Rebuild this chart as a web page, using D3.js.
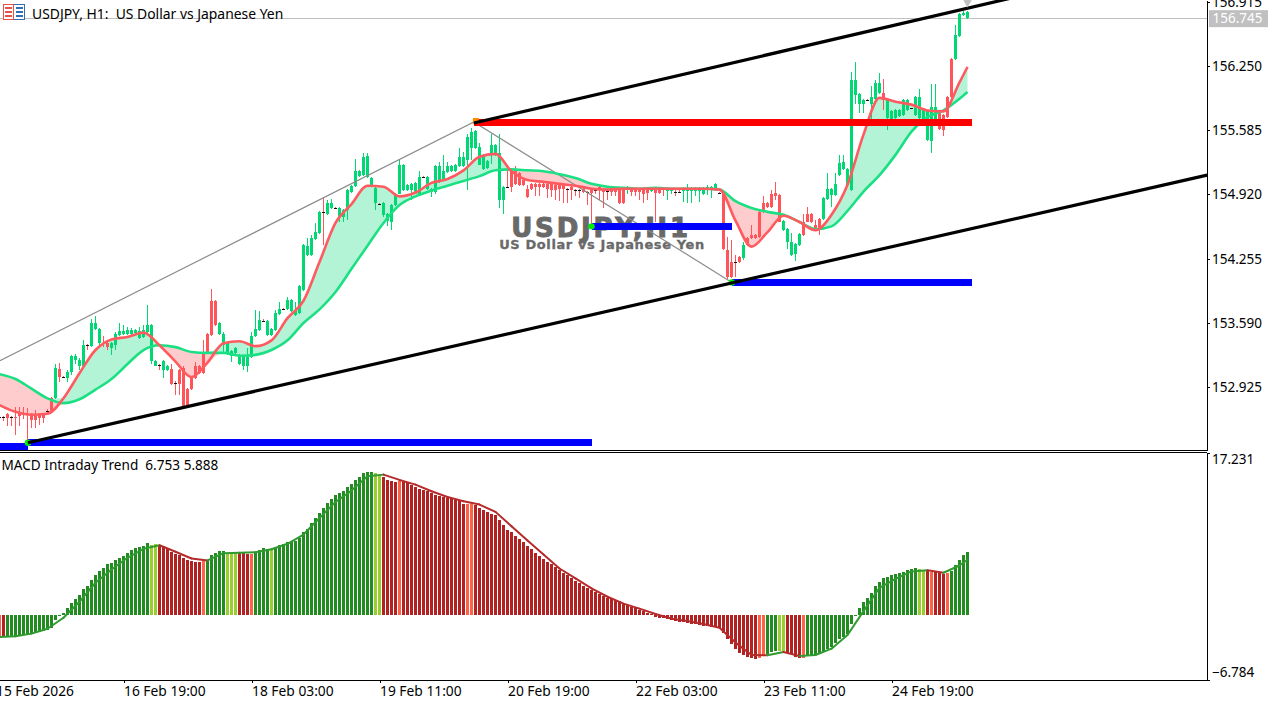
<!DOCTYPE html>
<html><head><meta charset="utf-8">
<script src="https://cdn.jsdelivr.net/npm/d3@7/dist/d3.min.js"></script>
<style>html,body{margin:0;padding:0;background:#fff;overflow:hidden}svg{display:block}text{white-space:pre}</style>
</head><body><svg id="c" width="1282" height="702"></svg>
<script>
// ---- candles (bar 0 is the oldest visible hour) ----
const opens=[
152.62,152.62,152.65,152.62,152.62,152.66,152.65,152.65,152.64,152.65,
152.65,152.65,152.68,152.81,152.81,153.11,153.03,153.02,153.08,153.21,
153.14,153.14,153.36,153.35,153.53,153.38,153.38,153.38,153.33,153.36,
153.47,153.48,153.48,153.48,153.49,153.43,153.44,153.50,153.20,153.14,
153.16,153.10,153.10,153.11,152.97,153.10,153.12,152.91,153.02,153.14,
153.14,153.29,153.48,153.82,153.82,153.48,153.36,153.28,153.25,153.28,
153.17,153.14,153.14,153.24,153.45,153.52,153.61,153.47,153.47,153.52,
153.68,153.73,153.73,153.71,153.67,153.69,153.93,154.29,154.29,154.46,
154.52,154.74,154.72,154.78,154.78,154.69,154.69,154.76,154.95,155.01,
155.11,155.12,155.10,155.02,154.83,154.82,154.71,154.65,154.64,154.81,
154.93,154.97,154.97,154.97,154.93,154.93,155.10,154.98,154.95,154.95,
155.05,155.07,155.15,155.16,155.16,155.21,155.21,155.28,155.40,155.40,
155.23,155.18,155.19,155.33,155.33,154.86,154.86,155.00,155.16,155.16,
155.14,155.07,154.98,155.03,155.03,155.03,155.03,155.03,155.03,155.02,
155.02,155.02,154.98,155.00,154.97,154.97,154.98,154.95,154.98,154.97,
155.00,154.98,154.96,154.98,154.98,154.97,154.97,154.97,154.98,154.98,
154.98,154.98,154.98,154.96,154.98,154.98,154.98,154.96,154.96,154.95,
154.95,154.96,154.96,154.96,154.96,154.96,154.92,154.97,154.98,154.98,
154.94,154.94,154.35,154.22,154.22,154.27,154.26,154.47,154.50,154.50,
154.74,154.83,154.83,154.93,154.94,154.91,154.55,154.43,154.29,154.30,
154.40,154.63,154.72,154.72,154.60,154.67,154.67,154.87,154.91,154.91,
155.12,155.18,155.02,154.97,155.95,155.86,155.86,155.90,155.86,155.91,
155.97,155.97,155.71,155.67,155.71,155.73,155.74,155.79,155.81,155.74,
155.71,155.69,155.48,155.47,155.69,155.76,155.74,155.93,156.32,156.32,
156.56,156.78,156.75];
const closes=[
152.62,152.62,152.61,152.62,152.61,152.63,152.64,152.65,152.59,152.59,
152.61,152.61,152.68,152.67,153.12,153.03,153.03,153.08,153.25,153.25,
153.21,153.36,153.36,153.59,153.59,153.53,153.38,153.34,153.38,153.48,
153.51,153.51,153.52,153.52,153.52,153.51,153.52,153.57,153.57,153.20,
153.16,153.20,153.14,152.96,152.97,152.96,152.73,152.73,152.91,153.02,
153.07,153.07,153.28,153.47,153.57,153.59,153.48,153.38,153.30,153.33,
153.26,153.24,153.24,153.45,153.53,153.62,153.61,153.61,153.53,153.69,
153.73,153.73,153.83,153.83,153.72,153.97,154.40,154.39,154.47,154.53,
154.74,154.74,154.83,154.83,154.78,154.78,154.76,154.97,155.01,155.16,
155.16,155.31,155.32,155.09,154.99,154.82,154.83,154.72,154.81,154.93,
155.23,155.23,155.02,155.03,155.04,155.10,155.10,155.10,154.98,155.21,
155.21,155.16,155.21,155.21,155.22,155.31,155.31,155.51,155.57,155.58,
155.41,155.33,155.27,155.43,155.43,155.35,155.00,155.00,155.00,155.03,
155.02,155.02,154.89,154.98,155.00,155.00,155.00,154.98,154.97,154.97,
154.98,154.98,154.98,154.97,154.97,154.97,154.95,154.95,154.94,154.97,
154.97,154.95,154.96,154.95,154.95,154.83,154.83,155.00,154.95,154.95,
154.95,154.93,154.94,154.98,154.94,154.94,154.97,154.98,154.98,154.95,
154.95,154.98,154.98,154.98,154.98,154.98,154.98,155.00,155.00,155.03,
154.94,154.36,154.07,154.07,154.22,154.22,154.40,154.40,154.47,154.47,
154.48,154.74,154.79,154.79,154.90,154.64,154.65,154.56,154.43,154.41,
154.51,154.50,154.64,154.63,154.56,154.55,154.88,154.98,154.98,155.03,
155.25,155.26,155.18,156.11,156.11,155.96,155.90,155.90,155.93,156.07,
156.07,155.90,155.90,155.78,155.79,155.79,155.90,155.90,155.81,155.93,
155.93,155.79,155.78,155.83,155.83,155.60,155.59,155.72,155.93,156.57,
156.79,156.80,156.81];
const highs=[
152.63,152.63,152.66,152.63,152.72,152.72,152.72,152.71,152.66,152.69,
152.66,152.66,152.70,152.82,153.17,153.18,153.04,153.10,153.26,153.27,
153.23,153.41,153.37,153.63,153.66,153.54,153.45,153.40,153.39,153.50,
153.59,153.57,153.55,153.54,153.53,153.55,153.57,153.78,153.58,153.21,
153.17,153.21,153.15,153.17,152.99,153.11,153.14,152.92,153.03,153.19,
153.15,153.41,153.49,153.94,153.83,153.60,153.50,153.39,153.31,153.34,
153.27,153.25,153.33,153.50,153.72,153.71,153.63,153.62,153.54,153.72,
153.81,153.74,153.86,153.84,153.81,153.98,154.41,154.47,154.50,154.62,
154.75,154.88,154.86,154.87,154.79,154.79,154.77,154.98,155.02,155.29,
155.17,155.35,155.35,155.10,155.00,154.83,154.84,154.73,154.82,154.94,
155.29,155.24,155.03,155.04,155.05,155.16,155.11,155.11,154.99,155.22,
155.26,155.33,155.26,155.22,155.24,155.40,155.36,155.55,155.61,155.59,
155.45,155.34,155.28,155.55,155.44,155.55,155.01,155.17,155.17,155.21,
155.15,155.08,155.02,155.04,155.04,155.04,155.04,155.04,155.04,155.03,
155.03,155.03,154.99,155.01,154.98,154.98,154.99,154.96,154.99,154.98,
155.01,154.99,154.97,154.99,154.99,154.98,154.98,155.01,154.99,154.99,
154.99,154.99,154.99,155.00,154.99,154.99,154.99,154.99,154.99,154.99,
154.99,155.00,155.03,155.00,155.00,155.00,155.00,155.02,155.01,155.04,
154.95,154.95,154.48,154.45,154.29,154.28,154.43,154.48,154.60,154.51,
154.75,154.90,154.84,154.97,155.05,154.92,154.66,154.57,154.52,154.42,
154.52,154.72,154.79,154.73,154.66,154.68,154.89,155.14,154.99,155.14,
155.33,155.33,155.19,156.19,156.29,155.97,155.91,155.91,156.04,156.10,
156.18,156.12,155.91,155.79,155.80,155.80,155.91,155.91,155.82,155.94,
156.01,155.80,155.79,156.06,156.06,155.77,155.75,155.94,156.33,156.67,
156.80,156.82,156.82];
const lows=[
152.60,152.58,152.52,152.52,152.43,152.52,152.60,152.34,152.50,152.50,
152.53,152.55,152.66,152.66,152.80,152.98,153.02,152.98,153.05,153.17,
153.10,153.13,153.31,153.34,153.52,153.36,153.34,153.31,153.26,153.31,
153.46,153.47,153.47,153.47,153.48,153.42,153.43,153.49,153.17,153.14,
153.10,153.02,153.09,152.95,152.84,152.84,152.72,152.72,152.90,153.01,
153.06,153.06,153.27,153.46,153.56,153.47,153.28,153.26,153.19,153.26,
153.16,153.10,153.08,153.23,153.44,153.51,153.60,153.45,153.46,153.51,
153.67,153.72,153.72,153.70,153.66,153.68,153.92,154.28,154.28,154.45,
154.51,154.40,154.71,154.77,154.77,154.64,154.64,154.66,154.94,155.00,
155.10,155.11,155.09,155.01,154.76,154.81,154.69,154.59,154.55,154.80,
154.92,154.96,154.96,154.86,154.92,154.92,155.09,154.97,154.89,154.93,
155.04,155.06,155.14,155.15,155.15,155.20,155.20,154.97,155.28,155.39,
155.22,155.17,155.18,155.24,155.32,154.78,154.72,154.99,154.95,155.02,
155.01,155.01,154.88,154.97,154.90,154.90,154.99,154.88,154.89,154.86,
154.85,154.83,154.83,154.86,154.90,154.88,154.94,154.81,154.60,154.93,
154.86,154.78,154.86,154.90,154.90,154.82,154.82,154.93,154.90,154.90,
154.86,154.83,154.86,154.95,154.64,154.93,154.90,154.86,154.93,154.90,
154.94,154.84,154.83,154.83,154.90,154.84,154.91,154.91,154.88,154.97,
154.93,154.35,154.05,154.06,154.07,154.21,154.24,154.39,154.46,154.46,
154.47,154.73,154.78,154.78,154.86,154.63,154.54,154.36,154.28,154.23,
154.39,154.49,154.63,154.62,154.55,154.50,154.66,154.86,154.79,154.90,
155.11,155.17,155.01,154.96,155.86,155.76,155.76,155.89,155.69,155.86,
155.96,155.79,155.59,155.66,155.70,155.72,155.73,155.78,155.80,155.73,
155.70,155.68,155.47,155.35,155.68,155.59,155.53,155.71,155.92,156.31,
156.55,156.77,156.74];

// ---- moving averages, read every fourth bar ----
const maBars=[0,4,8,12,16,20,24,28,32,36,40,44,48,52,56,60,64,68,72,76,80,84,88,92,96,100,104,108,112,116,120,124,128,132,136,140,144,148,152,156,160,164,168,172,176,180,184,188,192,196,200,204,208,212,216,220,224,228,232,236,240,242];
const maSlow=[153.06,153.01,152.91,152.81,152.76,152.80,152.90,153.01,153.165,153.31,153.36,153.34,153.29,153.28,153.28,153.25,153.26,153.31,153.41,153.59,153.73,153.91,154.15,154.39,154.625,154.81,154.90,154.96,155.01,155.06,155.11,155.17,155.18,155.17,155.16,155.13,155.09,155.03,155.00,154.99,154.98,154.99,154.98,154.98,154.98,154.97,154.85,154.78,154.74,154.71,154.635,154.56,154.59,154.75,154.95,155.12,155.33,155.57,155.72,155.79,155.91,155.98];
const maFast=[152.74,152.67,152.64,152.65,152.81,153.07,153.31,153.42,153.445,153.49,153.36,153.19,153.03,153.18,153.38,153.40,153.35,153.41,153.64,153.82,154.22,154.625,154.82,155.01,155.00,154.90,154.94,155.04,155.08,155.17,155.31,155.34,155.16,155.07,155.05,155.03,155.01,154.98,154.97,154.98,154.98,154.98,154.98,154.98,154.98,154.97,154.65,154.38,154.53,154.70,154.635,154.55,154.71,155.02,155.54,155.92,155.88,155.85,155.79,155.78,156.08,156.24];

// ---- MACD Intraday Trend ----
const macdHist=[
-2.29,-2.29,-2.22,-2.22,-2.18,-2.15,-2.11,-2.01,-1.90,-1.83,
-1.73,-1.65,-1.55,-1.37,-0.53,-0.05,0.28,0.74,1.34,1.69,
2.15,2.75,3.10,3.70,4.26,4.68,4.96,5.39,5.56,5.81,
6.09,6.30,6.58,6.94,7.08,7.22,7.36,7.68,7.43,7.50,
7.43,7.29,6.97,6.73,6.51,6.37,6.02,5.88,5.74,5.67,
5.63,5.74,5.81,6.44,6.62,6.76,6.80,6.62,6.62,6.58,
6.69,6.58,6.51,6.51,6.62,6.87,7.08,7.01,7.01,7.22,
7.43,7.57,7.71,7.92,7.92,8.20,8.84,9.19,9.79,10.32,
10.85,11.37,11.90,12.36,12.78,12.96,13.20,13.63,13.94,14.37,
14.68,15.11,15.21,15.21,15.11,14.89,14.68,14.37,14.19,14.08,
14.19,14.08,13.98,13.84,13.56,13.42,13.31,13.13,12.92,12.78,
12.61,12.54,12.46,12.39,12.18,12.08,11.73,11.73,11.80,11.65,
11.41,11.20,10.92,10.77,10.60,10.04,9.51,9.08,8.77,8.45,
8.03,7.71,7.29,6.97,6.55,6.23,5.92,5.60,5.39,5.07,
4.75,4.44,4.23,3.91,3.59,3.38,3.06,2.85,2.64,2.43,
2.22,2.01,1.80,1.69,1.58,1.48,1.16,1.06,0.88,0.74,
0.53,0.46,0.21,0.11,-0.18,-0.32,-0.32,-0.42,-0.53,-0.63,
-0.70,-0.70,-0.77,-0.92,-0.92,-0.99,-1.13,-1.13,-1.20,-1.20,
-1.37,-1.90,-2.54,-3.06,-3.59,-4.01,-4.23,-4.44,-4.51,-4.61,
-4.51,-4.30,-4.12,-3.87,-3.77,-3.77,-3.77,-3.94,-4.12,-4.37,
-4.47,-4.47,-4.30,-4.30,-4.12,-4.12,-3.87,-3.59,-3.35,-2.89,
-2.54,-2.25,-2.01,-0.95,-0.07,0.74,1.41,1.87,2.39,3.10,
3.52,3.98,4.05,4.23,4.33,4.44,4.61,4.75,4.86,4.96,
4.86,4.75,4.68,4.61,4.58,4.51,4.33,4.44,4.68,5.28,
5.81,6.44,6.753];
const histRunStates=["tomato","fall","rise","lime","fall","tomato","rise","lime","fall","tomato","rise","lime","rise","lime","fall","tomato","fall","tomato","fall","tomato","rise","lime","fall","tomato","rise","lime","fall","tomato","fall","tomato","rise"];
const histRunLengths=[1,1,36,2,11,1,5,3,3,1,4,1,25,2,4,1,16,2,71,2,3,2,4,1,28,2,1,1,3,1,5];
const macdSignal=[-2.29,-2.22,-1.93,-1.41,-0.25,1.44,3.45,4.86,6.09,7.04,7.42,6.73,6.02,5.81,6.58,6.62,6.68,7.00,7.57,8.55,10.3,12.0,13.2,14.71,14.89,14.33,13.83,13.13,12.53,12.07,11.72,10.95,9.43,7.92,6.44,4.96,3.91,2.85,1.97,1.24,0.71,0.14,-0.35,-0.6,-0.92,-1.3,-2.88,-4.19,-4.22,-3.87,-4.3,-4.19,-3.52,-2.08,0.45,2.92,3.87,4.65,4.78,4.51,5.28,5.888];

// ---- ticks and labels ----
const priceTicks=[156.915,156.250,155.585,154.920,154.255,153.590,152.925];
const macdTicks=[17.231,-6.784];
const timeTickBars=[-1,31,63,95,127,159,191,223];
const timeLabels=["15 Feb 2026","16 Feb 19:00","18 Feb 03:00","19 Feb 11:00","20 Feb 19:00","22 Feb 03:00","23 Feb 11:00","24 Feb 19:00"];
const lastPrice=156.745;

// ---- drawn objects: [bar, price] end points ----
const zigzag=[[0.1,153.20],[118.6,155.67],[183.1,154.01]];
const trendLines=[[[118.6,155.66],[252.6,156.95]],[[7.1,152.35],[301.9,155.12]]];
const levelStarts=[118.6,148,183.1,7.1,0];
const levelEnds=[243,183.1,243,148,7.1];
const levelPrices=[155.67,154.59,154.01,152.35,152.31];
const levelKinds=["#ff0000","#0000ff","#0000ff","#0000ff","#0000ff"];
const pivotBars=[148,183.1,7.1];
const pivotPrices=[154.59,154.01,152.35];

const FONT='"Noto Sans",sans-serif';
const svg=d3.select('#c');
const x=d3.scaleLinear().domain([0,302]).range([-0.5,1207.5]);
const yP=d3.scaleLinear().domain([152.275,156.933]).range([450,0]);
const yM=d3.scaleLinear().domain([-6.784,17.231]).range([679.5,452.5]);
const UP='#00d973',DOWN='#ff5459';

// watermark text
svg.append('text').attr('x',601).attr('y',236.5).attr('text-anchor','middle')
  .attr('font-family','"DejaVu Sans"').attr('font-weight',700).attr('font-size',26).attr('letter-spacing',2.8)
  .attr('fill','#696969').attr('stroke','#696969').attr('stroke-width',1).text('USDJPY,H1');
svg.append('text').attr('x',602).attr('y',248.5).attr('text-anchor','middle')
  .attr('font-family','"DejaVu Sans"').attr('font-weight',700).attr('font-size',13).attr('letter-spacing',0.6)
  .attr('fill','#696969').attr('stroke','#696969').attr('stroke-width',0.3).text('US Dollar vs Japanese Yen');

// current price line
svg.append('line').attr('x1',0).attr('x2',1207).attr('y1',Math.round(yP(lastPrice))+.5).attr('y2',Math.round(yP(lastPrice))+.5)
  .attr('stroke','#c0c0c0');

// fill between moving averages
const idx=d3.range(maBars.length);
const areaUp=d3.area().x(k=>x(maBars[k])).y0(k=>yP(maSlow[k])).y1(k=>yP(Math.max(maFast[k],maSlow[k]))).curve(d3.curveMonotoneX);
const areaDn=d3.area().x(k=>x(maBars[k])).y0(k=>yP(maSlow[k])).y1(k=>yP(Math.min(maFast[k],maSlow[k]))).curve(d3.curveMonotoneX);
svg.append('path').attr('d',areaUp(idx)).attr('fill','#b3f4d7');
svg.append('path').attr('d',areaDn(idx)).attr('fill','#ffcccd');

// candles
const bars=d3.range(opens.length);
const gC=svg.append('g').attr('shape-rendering','crispEdges');
const colour=i=>closes[i]>opens[i]?UP:closes[i]<opens[i]?DOWN:'#111';
gC.selectAll('.w').data(bars).join('rect').attr('class','w')
  .attr('x',i=>x(i)-0.5).attr('width',1)
  .attr('y',i=>yP(highs[i])).attr('height',i=>Math.max(1,yP(lows[i])-yP(highs[i])))
  .attr('fill',i=>opens[i]===closes[i]?'#ff5459':colour(i));
gC.selectAll('.b').data(bars).join('rect').attr('class','b')
  .attr('x',i=>x(i)-1.5).attr('width',3)
  .attr('y',i=>yP(Math.max(opens[i],closes[i]))).attr('height',i=>Math.max(1,Math.abs(yP(opens[i])-yP(closes[i]))))
  .attr('fill',colour);

// analysis lines
const pt=d3.line().x(d=>x(d[0])).y(d=>yP(d[1]));
svg.append('path').attr('d',pt(zigzag)).attr('fill','none').attr('stroke','#8c8c8c').attr('stroke-width',1.2);

// moving average lines
const lineOf=a=>d3.line().x(k=>x(maBars[k])).y(k=>yP(a[k])).curve(d3.curveMonotoneX)(idx);
svg.append('path').attr('d',lineOf(maSlow)).attr('fill','none').attr('stroke','#1be083').attr('stroke-width',2.6);
svg.append('path').attr('d',lineOf(maFast)).attr('fill','none').attr('stroke','#ff5a5f').attr('stroke-width',2.6);

// horizontal levels
svg.append('g').attr('shape-rendering','crispEdges').selectAll('rect').data(levelPrices).join('rect')
  .attr('x',(d,i)=>x(levelStarts[i])).attr('width',(d,i)=>x(levelEnds[i])-x(levelStarts[i]))
  .attr('y',d=>yP(d)-3.5).attr('height',7).attr('fill',(d,i)=>levelKinds[i]);
svg.append('rect').attr('x',x(118.6)-1).attr('y',yP(155.67)-4).attr('width',6).attr('height',6).attr('fill','#ff8c00');

// pivots
svg.selectAll('.p').data(pivotBars).join('circle').attr('class','p')
  .attr('cx',d=>x(d)).attr('cy',(d,i)=>yP(pivotPrices[i])).attr('r',3.2).attr('fill','#00ee00');

// trend lines
trendLines.forEach(t=>svg.append('path').attr('d',pt(t)).attr('fill','none').attr('stroke','#000').attr('stroke-width',3.2));

// last price marker
svg.append('path').attr('d',d3.symbol(d3.symbolDiamond,55)()).attr('transform',`translate(${x(242)},0.5)`).attr('fill','#c0c0c0');

// MACD histogram
const histState=histRunStates.flatMap((s,k)=>d3.range(histRunLengths[k]).map(()=>s));
const histColour={rise:'#228b22',lime:'#9acd32',fall:'#b22222',tomato:'#ff6347'};
svg.append('g').attr('shape-rendering','crispEdges').selectAll('rect').data(macdHist).join('rect')
  .attr('x',(d,i)=>x(i)-1.5).attr('width',3)
  .attr('y',d=>Math.min(yM(d),yM(0))).attr('height',d=>Math.max(1,Math.abs(yM(d)-yM(0))))
  .attr('fill',(d,i)=>histColour[histState[i]]);
// MACD signal
const segs=d3.pairs(d3.range(macdSignal.length));
svg.append('g').selectAll('path').data(segs).join('path')
  .attr('d',([a,b])=>d3.line().x(k=>x(maBars[k])).y(k=>yM(macdSignal[k]))([a,b]))
  .attr('fill','none').attr('stroke-width',2).attr('stroke-linecap','round')
  .attr('stroke',([a,b])=>macdSignal[b]>=macdSignal[a]?'#2f9a2f':'#b52a2a');

// frame
const frame=svg.append('g').attr('shape-rendering','crispEdges');
frame.append('line').attr('x1',0).attr('x2',1207).attr('y1',450.5).attr('y2',450.5).attr('stroke','#000');
frame.append('line').attr('x1',0).attr('x2',1207).attr('y1',452.5).attr('y2',452.5).attr('stroke','#000');

// axes
const styleAxis=size=>g=>{g.attr('font-family',FONT).attr('font-size',size);
  g.selectAll('text').attr('fill','#000');
  g.selectAll('path,line').attr('stroke','#000').attr('shape-rendering','crispEdges');};
svg.append('g').attr('transform','translate(1207,0)')
  .call(d3.axisRight(yP).tickValues(priceTicks).tickFormat(d3.format('.3f')).tickSize(3).tickSizeOuter(0).tickPadding(2))
  .call(styleAxis(13.5));
svg.append('g').attr('transform','translate(1207,0)')
  .call(d3.axisRight(yM).tickValues(macdTicks).tickFormat(d3.format('.3f')).tickSize(3).tickSizeOuter(0).tickPadding(2))
  .call(styleAxis(13.5)).call(g=>g.selectAll('text').attr('y',d=>d>0?7:-7));
svg.append('g').attr('transform','translate(0,679.5)')
  .call(d3.axisBottom(x).tickValues(timeTickBars).tickFormat((d,i)=>timeLabels[i]).tickSize(3).tickSizeOuter(0))
  .call(styleAxis(13.8)).call(g=>g.selectAll('text').attr('text-anchor','start').attr('y',7).attr('x',0));

// last price tag
svg.append('rect').attr('x',1209).attr('y',yP(lastPrice)-8).attr('width',59).attr('height',17).attr('fill','#c0c0c0');
svg.append('text').attr('x',1212.5).attr('y',yP(lastPrice)+5).attr('font-family',FONT).attr('font-size',13.5).attr('fill','#fff').text(d3.format('.3f')(lastPrice));

// titles
svg.append('text').attr('x',32).attr('y',18.5).attr('font-family',FONT).attr('font-size',13.9).attr('fill','#000').text('USDJPY, H1:  US Dollar vs Japanese Yen');
svg.append('text').attr('x',1.5).attr('y',470).attr('font-family',FONT).attr('font-size',13.6).attr('fill','#000').text('MACD Intraday Trend  6.753 5.888');

// symbol icon
const icon=svg.append('g').attr('shape-rendering','crispEdges');
icon.append('rect').attr('x',3.5).attr('y',4.5).attr('width',21).attr('height',15).attr('fill','#fff').attr('stroke','#2f6fb5');
icon.append('rect').attr('x',3.5).attr('y',4.5).attr('width',10).attr('height',15).attr('fill','#fff').attr('stroke','#e8504a');
d3.range(3).forEach(k=>{
  icon.append('rect').attr('x',5).attr('y',7+k*4).attr('width',7).attr('height',2).attr('fill','#e8504a');
  icon.append('rect').attr('x',16).attr('y',7+k*4).attr('width',7).attr('height',2).attr('fill','#2f6fb5');
});
</script></body></html>
